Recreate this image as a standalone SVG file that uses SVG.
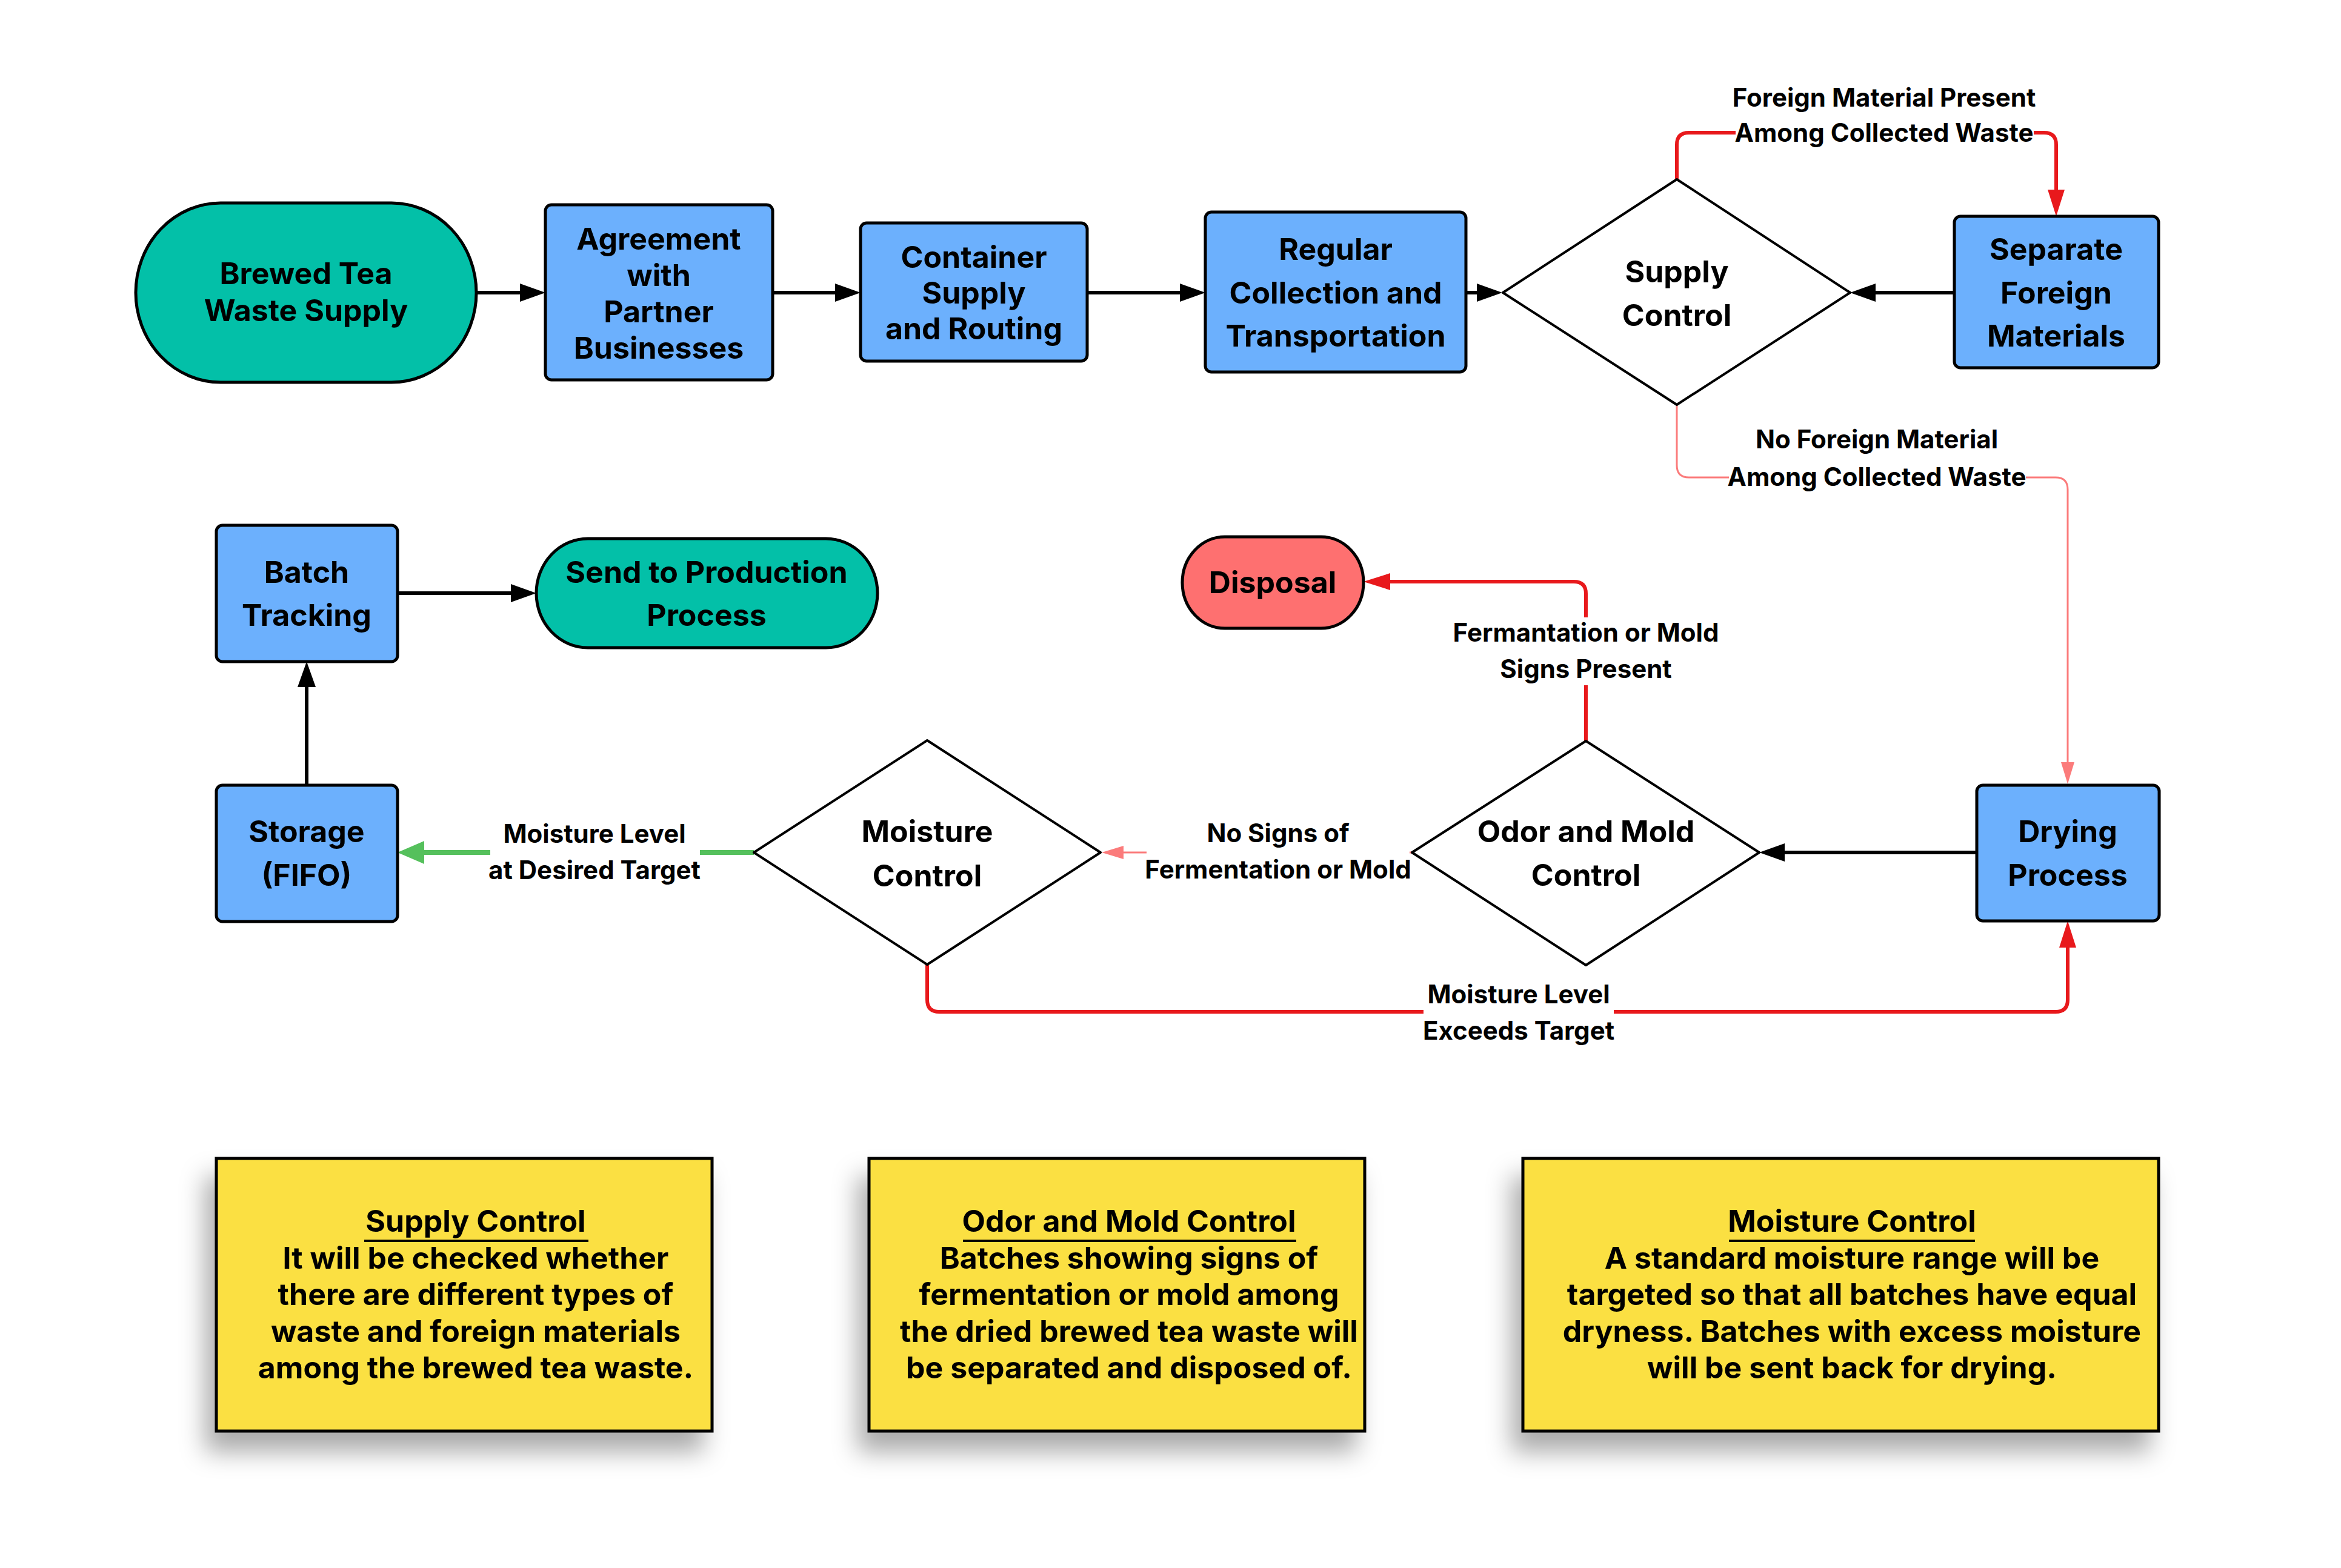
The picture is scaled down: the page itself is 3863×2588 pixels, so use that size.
<svg xmlns="http://www.w3.org/2000/svg" width="3863" height="2588" viewBox="0 0 3863 2588">
<style>
.t{font-family:Inter,"Liberation Sans",sans-serif;font-weight:700;text-anchor:middle;fill:#000}
.n{font-size:50px}
.l{font-size:42px}
.box{fill:#6cb0fd;stroke:#000;stroke-width:5}
.term{fill:#03c0a8;stroke:#000;stroke-width:5}
.dia{fill:#fff;stroke:#000;stroke-width:4;stroke-linejoin:round}
.note{fill:#fbe042;stroke:#000;stroke-width:5}
.blk{fill:none;stroke:#000;stroke-width:6}
.red{fill:none;stroke:#e8191c;stroke-width:6}
.sal{fill:none;stroke:#fb7b7b;stroke-width:3}
.grn{fill:none;stroke:#55c05c;stroke-width:8}
.lbg{fill:#fff}
</style>
<defs>
<marker id="aB" markerUnits="userSpaceOnUse" markerWidth="44" markerHeight="32" refX="30" refY="15" orient="auto"><path d="M0,0 L42,15 L0,30 Z" fill="#000"/></marker>
<marker id="aR" markerUnits="userSpaceOnUse" markerWidth="46" markerHeight="30" refX="32" refY="14" orient="auto"><path d="M0,0 L44,14 L0,28 Z" fill="#e8191c"/></marker>
<marker id="aS" markerUnits="userSpaceOnUse" markerWidth="40" markerHeight="24" refX="26" refY="11" orient="auto"><path d="M0,0 L36,11 L0,22 Z" fill="#fb7b7b"/></marker>
<marker id="aG" markerUnits="userSpaceOnUse" markerWidth="48" markerHeight="40" refX="32" refY="19" orient="auto"><path d="M0,0 L44,19 L0,38 Z" fill="#55c05c"/></marker>
<filter id="sh" x="-20%" y="-20%" width="140%" height="150%"><feDropShadow dx="-16" dy="32" stdDeviation="20" flood-color="#000" flood-opacity="0.33"/></filter>
</defs>

<g id="connectors">
<path class="blk" d="M786,483 H888" marker-end="url(#aB)"/>
<path class="blk" d="M1275,483 H1408" marker-end="url(#aB)"/>
<path class="blk" d="M1794,483 H1977" marker-end="url(#aB)"/>
<path class="blk" d="M2419,483 H2467" marker-end="url(#aB)"/>
<path class="blk" d="M3225,483 H3065" marker-end="url(#aB)"/>
<path class="blk" d="M506,1296 V1104" marker-end="url(#aB)"/>
<path class="blk" d="M656,979 H873" marker-end="url(#aB)"/>
<path class="blk" d="M3262,1407 H2915" marker-end="url(#aB)"/>
<path class="red" d="M2767,296 V239 Q2767,219 2787,219 H3373 Q3393,219 3393,239 V345" marker-end="url(#aR)"/>
<path class="red" d="M2617,1223 V980 Q2617,960 2597,960 H2262" marker-end="url(#aR)"/>
<path class="red" d="M1530,1592 V1650 Q1530,1670 1550,1670 H3392 Q3412,1670 3412,1650 V1532" marker-end="url(#aR)"/>
<path class="sal" d="M2767,668 V768 Q2767,788 2787,788 H3392 Q3412,788 3412,808 V1284" marker-end="url(#aS)"/>
<path class="sal" d="M2330,1407 H1828" marker-end="url(#aS)"/>
<path class="grn" d="M1244,1407 H668" marker-end="url(#aG)"/>

<rect class="lbg" x="2864" y="192" width="492" height="56"/>
<text class="t l" x="3109" y="176">Foreign Material Present</text>
<text class="t l" x="3109" y="234">Among Collected Waste</text>
<rect class="lbg" x="2853" y="758" width="490" height="58"/>
<text class="t l" x="3097" y="740">No Foreign Material</text>
<text class="t l" x="3097" y="802">Among Collected Waste</text>
<rect class="lbg" x="2400" y="1019" width="435" height="112"/>
<text class="t l" x="2617" y="1059">Fermantation or Mold</text>
<text class="t l" x="2617" y="1119">Signs Present</text>
<rect class="lbg" x="809" y="1345" width="346" height="125"/>
<text class="t l" x="981" y="1391">Moisture Level</text>
<text class="t l" x="981" y="1451">at Desired Target</text>
<rect class="lbg" x="1892" y="1345" width="434" height="125"/>
<text class="t l" x="2109" y="1390">No Signs of</text>
<text class="t l" x="2109" y="1450">Fermentation or Mold</text>
<rect class="lbg" x="2349" y="1610" width="314" height="125"/>
<text class="t l" x="2506" y="1656">Moisture Level</text>
<text class="t l" x="2506" y="1716">Exceeds Target</text>
</g>

<g id="brewed">
<path class="term" d="M364,335 H646 A140 148 0 0 1 786 483 A140 148 0 0 1 646 631 H364 A140 148 0 0 1 224 483 A140 148 0 0 1 364 335 Z"/>
<text class="t n" x="505" y="469">Brewed Tea</text>
<text class="t n" x="505" y="530">Waste Supply</text>
</g>
<g id="agreement">
<rect class="box" x="900" y="338" width="375" height="289" rx="10"/>
<text class="t n" x="1087" y="412">Agreement</text>
<text class="t n" x="1087" y="472">with</text>
<text class="t n" x="1087" y="532">Partner</text>
<text class="t n" x="1087" y="592">Businesses</text>
</g>
<g id="container">
<rect class="box" x="1420" y="368" width="374" height="228" rx="10"/>
<text class="t n" x="1607" y="442">Container</text>
<text class="t n" x="1607" y="501">Supply</text>
<text class="t n" x="1607" y="560">and Routing</text>
</g>
<g id="regular">
<rect class="box" x="1989" y="350" width="430" height="264" rx="10"/>
<text class="t n" x="2204" y="429">Regular</text>
<text class="t n" x="2204" y="501">Collection and</text>
<text class="t n" x="2204" y="572">Transportation</text>
</g>
<g id="supply-control">
<polygon class="dia" points="2767,296 3053,483 2767,668 2480,483"/>
<text class="t n" x="2767" y="466">Supply</text>
<text class="t n" x="2767" y="538">Control</text>
</g>
<g id="separate">
<rect class="box" x="3225" y="357" width="337" height="250" rx="10"/>
<text class="t n" x="3393" y="429">Separate</text>
<text class="t n" x="3393" y="501">Foreign</text>
<text class="t n" x="3393" y="572">Materials</text>
</g>
<g id="batch">
<rect class="box" x="357" y="867" width="299" height="225" rx="10"/>
<text class="t n" x="506" y="962">Batch</text>
<text class="t n" x="506" y="1033">Tracking</text>
</g>
<g id="send">
<path class="term" d="M970,889 H1363 A85 90 0 0 1 1448 979 A85 90 0 0 1 1363 1069 H970 A85 90 0 0 1 885 979 A85 90 0 0 1 970 889 Z"/>
<text class="t n" x="1166" y="962">Send to Production</text>
<text class="t n" x="1166" y="1033">Process</text>
</g>
<g id="disposal">
<path d="M2021,886 H2180 A70 75.5 0 0 1 2250 961.5 A70 75.5 0 0 1 2180 1037 H2021 A70 75.5 0 0 1 1951 961.5 A70 75.5 0 0 1 2021 886 Z" fill="#fe7070" stroke="#000" stroke-width="5"/>
<text class="t n" x="2100" y="979">Disposal</text>
</g>
<g id="storage">
<rect class="box" x="357" y="1296" width="299" height="225" rx="10"/>
<text class="t n" x="506" y="1390">Storage</text>
<text class="t n" x="506" y="1462">(FIFO)</text>
</g>
<g id="moisture-control">
<polygon class="dia" points="1530,1222 1816,1407 1530,1592 1244,1407"/>
<text class="t n" x="1530" y="1390">Moisture</text>
<text class="t n" x="1530" y="1463">Control</text>
</g>
<g id="odor-control">
<polygon class="dia" points="2617,1223 2903,1407 2617,1593 2330,1407"/>
<text class="t n" x="2617" y="1390">Odor and Mold</text>
<text class="t n" x="2617" y="1462">Control</text>
</g>
<g id="drying">
<rect class="box" x="3262" y="1296" width="301" height="224" rx="10"/>
<text class="t n" x="3412" y="1390">Drying</text>
<text class="t n" x="3412" y="1462">Process</text>
</g>

<g id="note-supply">
<rect class="note" x="357" y="1912" width="818" height="450" filter="url(#sh)"/>
<text class="t n" x="785" y="2033">Supply Control</text>
<line x1="601" y1="2048" x2="971" y2="2048" stroke="#000" stroke-width="4"/>
<text class="t n" x="785" y="2094">It will be checked whether</text>
<text class="t n" x="785" y="2154">there are different types of</text>
<text class="t n" x="785" y="2215">waste and foreign materials</text>
<text class="t n" x="785" y="2275">among the brewed tea waste.</text>
</g>
<g id="note-odor">
<rect class="note" x="1434" y="1912" width="818" height="450" filter="url(#sh)"/>
<text class="t n" x="1863" y="2033">Odor and Mold Control</text>
<line x1="1589" y1="2048" x2="2139" y2="2048" stroke="#000" stroke-width="4"/>
<text class="t n" x="1863" y="2094">Batches showing signs of</text>
<text class="t n" x="1863" y="2154">fermentation or mold among</text>
<text class="t n" x="1863" y="2215">the dried brewed tea waste will</text>
<text class="t n" x="1863" y="2275">be separated and disposed of.</text>
</g>
<g id="note-moisture">
<rect class="note" x="2513" y="1912" width="1049" height="450" filter="url(#sh)"/>
<text class="t n" x="3056" y="2033">Moisture Control</text>
<line x1="2853" y1="2048" x2="3259" y2="2048" stroke="#000" stroke-width="4"/>
<text class="t n" x="3056" y="2094">A standard moisture range will be</text>
<text class="t n" x="3056" y="2154">targeted so that all batches have equal</text>
<text class="t n" x="3056" y="2215">dryness. Batches with excess moisture</text>
<text class="t n" x="3056" y="2275">will be sent back for drying.</text>
</g>
</svg>
